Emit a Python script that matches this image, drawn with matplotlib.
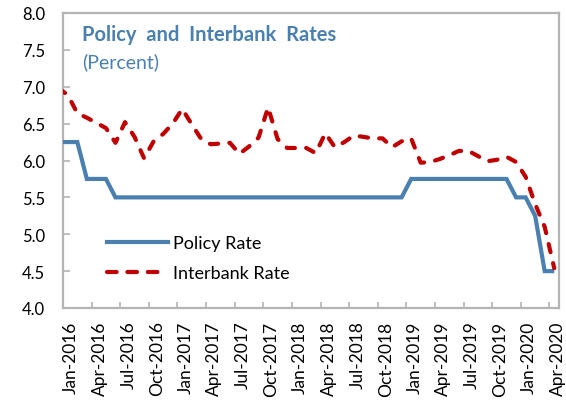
import numpy as np
import matplotlib
matplotlib.use("Agg")
import matplotlib.pyplot as plt
from matplotlib.lines import Line2D

# Monthly data, Dec-2015 .. Apr-2020 (first point sits just outside the plot and is clipped)
months = ["Dec-2015",
          "Jan-2016", "Feb-2016", "Mar-2016", "Apr-2016", "May-2016", "Jun-2016",
          "Jul-2016", "Aug-2016", "Sep-2016", "Oct-2016", "Nov-2016", "Dec-2016",
          "Jan-2017", "Feb-2017", "Mar-2017", "Apr-2017", "May-2017", "Jun-2017",
          "Jul-2017", "Aug-2017", "Sep-2017", "Oct-2017", "Nov-2017", "Dec-2017",
          "Jan-2018", "Feb-2018", "Mar-2018", "Apr-2018", "May-2018", "Jun-2018",
          "Jul-2018", "Aug-2018", "Sep-2018", "Oct-2018", "Nov-2018", "Dec-2018",
          "Jan-2019", "Feb-2019", "Mar-2019", "Apr-2019", "May-2019", "Jun-2019",
          "Jul-2019", "Aug-2019", "Sep-2019", "Oct-2019", "Nov-2019", "Dec-2019",
          "Jan-2020", "Feb-2020", "Mar-2020", "Apr-2020"]

policy_rate = [6.25,
               6.25, 6.25, 5.75, 5.75, 5.75, 5.50,
               5.50, 5.50, 5.50, 5.50, 5.50, 5.50,
               5.50, 5.50, 5.50, 5.50, 5.50, 5.50,
               5.50, 5.50, 5.50, 5.50, 5.50, 5.50,
               5.50, 5.50, 5.50, 5.50, 5.50, 5.50,
               5.50, 5.50, 5.50, 5.50, 5.50, 5.50,
               5.75, 5.75, 5.75, 5.75, 5.75, 5.75,
               5.75, 5.75, 5.75, 5.75, 5.75, 5.50,
               5.50, 5.25, 4.50, 4.50]

interbank_rate = [6.98,
                  6.89, 6.64, 6.58, 6.51, 6.44, 6.24,
                  6.52, 6.32, 6.03, 6.26, 6.36, 6.50,
                  6.70, 6.49, 6.29, 6.22, 6.23, 6.24,
                  6.09, 6.19, 6.31, 6.72, 6.29, 6.17,
                  6.17, 6.17, 6.10, 6.37, 6.18, 6.25,
                  6.34, 6.32, 6.30, 6.30, 6.18, 6.26,
                  6.30, 5.97, 5.98, 6.02, 6.07, 6.13,
                  6.13, 6.06, 5.99, 6.01, 6.05, 5.98,
                  5.78, 5.41, 5.10, 4.54]

tick_labels = ["Jan-2016", "Apr-2016", "Jul-2016", "Oct-2016",
               "Jan-2017", "Apr-2017", "Jul-2017", "Oct-2017",
               "Jan-2018", "Apr-2018", "Jul-2018", "Oct-2018",
               "Jan-2019", "Apr-2019", "Jul-2019", "Oct-2019",
               "Jan-2020", "Apr-2020"]

FONT = ["Lato", "DejaVu Sans"]
plt.rcParams["font.family"] = FONT

BLUE = "#4A80B0"
RED = "#C00000"
GRAY = "#B4B4B4"

fig = plt.figure(figsize=(5.66, 4.02), dpi=100)
W, H = 566, 402
AX_L, AX_T, AX_W, AX_H = 63, 14, 496, 295
ax = fig.add_axes([AX_L / W, 1 - (AX_T + AX_H) / H, AX_W / W, AX_H / H])

x = np.arange(len(months)) - 1 + 0.5  # category centres (Jan-2016 centred at 0.5)

ax.plot(x, policy_rate, color=BLUE, lw=3.0, solid_joinstyle="miter",
        solid_capstyle="butt", label="Policy Rate", zorder=3)
red_line, = ax.plot(x, interbank_rate, color=RED, lw=3.0, label="Interbank Rate",
                    dash_capstyle="round", zorder=4)
red_line.set_dashes((2.0, 2.7))

ax.set_xlim(0, 52)
ax.set_ylim(4.0, 8.0)

# tick marks at category boundaries, labels near category centres
ax.set_xticks(np.arange(0, 52, 3))
ax.set_xticklabels([])
ax.set_xticks(np.arange(0, 52, 3) + 0.85, minor=True)
ax.set_xticklabels(tick_labels, minor=True, rotation=90, fontsize=12.5,
                   va="top", ha="center")
ax.tick_params(axis="x", which="major", direction="in", length=4, width=1.2,
               color=GRAY)
ax.tick_params(axis="x", which="minor", length=0, pad=9, labelcolor="black")

yt = np.arange(4.0, 8.01, 0.5)
ax.set_yticks(yt)
ax.set_yticklabels([f"{v:.1f}" for v in yt], fontsize=12)
ax.tick_params(axis="y", direction="in", length=5, width=1.2, color=GRAY, pad=13)

for s in ax.spines.values():
    s.set_color(GRAY)
    s.set_linewidth(1.6)

def px(xp, yp):
    return ((xp - AX_L) / AX_W, 1 - (yp - AX_T) / AX_H)

ax.text(*px(82, 41), "Policy  and  Interbank  Rates", transform=ax.transAxes,
        fontsize=14.5, fontweight="bold", color=BLUE, va="baseline", ha="left")
ax.text(*px(82, 68), "(Percent)", transform=ax.transAxes,
        fontsize=14, color=BLUE, va="baseline", ha="left")

h1 = Line2D([], [], color=BLUE, lw=3.0)
h2 = Line2D([], [], color=RED, lw=3.0, dash_capstyle="round", dashes=(2.3, 2.6))
leg = ax.legend([h1, h2], ["Policy Rate", "Interbank Rate"], loc="upper left",
                bbox_to_anchor=px(107, 236), frameon=False, fontsize=13,
                handlelength=3.38, handletextpad=0.28, labelspacing=0.78,
                borderpad=0, borderaxespad=0)

fig.savefig("out.png", dpi=100)
